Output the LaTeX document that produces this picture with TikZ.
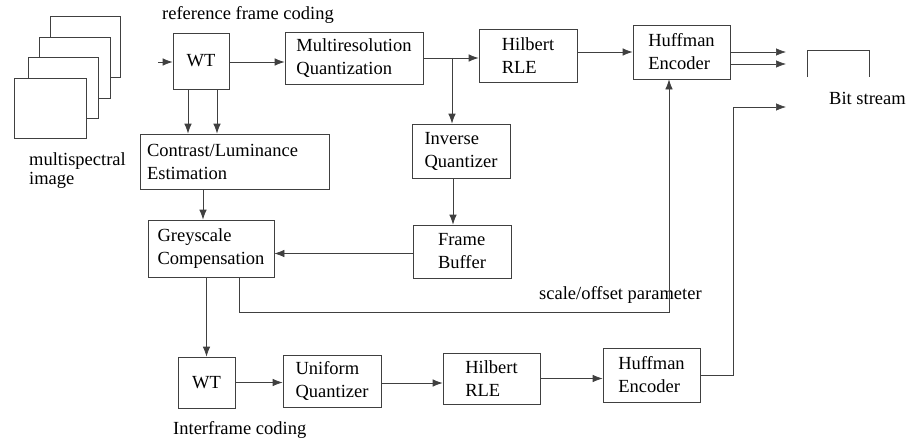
\documentclass[tikz,border=0pt]{standalone}
\usepackage{fontspec}
\setmainfont{Liberation Serif}
\usetikzlibrary{arrows.meta}
\begin{document}
\begin{tikzpicture}[x=1pt,y=-1pt,
  ln/.style={draw=black!75,line width=0.7pt},
  blk/.style={ln,rectangle,inner sep=0pt,align=left,font=\fontsize{18.5}{23}\selectfont},
  lbl/.style={inner sep=0pt,align=left,font=\fontsize{18.5}{19}\selectfont},
  arr/.style={ln,-{Latex[length=10pt,width=7.5pt]}},
  sheet/.style={ln,fill=white}]
\useasboundingbox (0,0) rectangle (910,444);
% multispectral image stack
\draw[sheet] (50,16) rectangle (120,77);
\draw[sheet] (39,37) rectangle (110,98);
\draw[sheet] (28,57) rectangle (98,118);
\draw[sheet] (14,78) rectangle (86,138);
\node[lbl,anchor=west] (ms) at (29,171) {multispectral\\image};
\node[lbl,anchor=west] (rfc) at (162,15) {reference frame coding};
\node[lbl,anchor=west] (ifc) at (173,430) {Interframe coding};
\node[lbl,anchor=west] (sop) at (539,295) {scale/offset parameter};
\node[lbl,anchor=west] (bs) at (829,98) {Bit stream};
% blocks
\node[blk,minimum width=56pt,minimum height=56pt] (WT1) at (201,61) {WT};
\node[blk,minimum width=138pt,minimum height=52pt] (MQ) at (354,58) {Multiresolution\\Quantization};
\node[blk,minimum width=98pt,minimum height=53pt] (HR1) at (528,55.5) {Hilbert\\RLE};
\node[blk,minimum width=97pt,minimum height=54pt] (HE1) at (681.5,52) {Huffman\\Encoder};
\node[blk,minimum width=189pt,minimum height=55pt,text width=175pt,inner xsep=7pt] (CL) at (234.5,161.5) {Contrast/Luminance\\Estimation};
\node[blk,minimum width=126pt,minimum height=57pt] (GC) at (211,248.5) {Greyscale\\Compensation};
\node[blk,minimum width=98pt,minimum height=54pt] (IQ) at (461,151) {Inverse\\Quantizer};
\node[blk,minimum width=98pt,minimum height=53pt] (FB) at (462,251.5) {Frame\\Buffer};
\node[blk,minimum width=57pt,minimum height=51pt] (WT2) at (206.5,382.5) {WT};
\node[blk,minimum width=98pt,minimum height=52pt] (UQ) at (332,381) {Uniform\\Quantizer};
\node[blk,minimum width=97pt,minimum height=51pt] (HR2) at (491.5,378.5) {Hilbert\\RLE};
\node[blk,minimum width=97pt,minimum height=54pt] (HE2) at (651.5,375) {Huffman\\Encoder};
% bit stream box (open at the bottom)
\draw[ln] (807,77) -- (807,50) -- (869,50) -- (869,77);
% coordinates
\coordinate (in) at (158,62);
\coordinate (br) at (452,58);
\coordinate (sc) at (669,312);
\coordinate (o1) at (786,52);
\coordinate (o2) at (786,64);
\coordinate (o3) at (786,107);
% connectors
\draw[arr] (in) -- (in -| WT1.west);
\draw[arr] ([yshift=-1pt]WT1.east) -- ([yshift=-1pt]WT1.east -| MQ.west);
\draw[arr] (MQ.east) -- (MQ.east -| HR1.west);
\draw[arr] (br) -- (br |- IQ.north);
\draw[arr] ([xshift=-8pt]IQ.south) -- ([xshift=-8pt]IQ.south |- FB.north);
\draw[arr] ([yshift=-2pt]FB.west) -- ([yshift=-2pt]FB.west -| GC.east);
\draw[arr] ([xshift=-13pt]WT1.south) -- ([xshift=-13pt]WT1.south |- CL.north);
\draw[arr] ([xshift=16pt]WT1.south) -- ([xshift=16pt]WT1.south |- CL.north);
\draw[arr] ([xshift=-8pt]GC.north |- CL.south) -- ([xshift=-8pt]GC.north);
\draw[arr] (WT2.north |- GC.south) -- (WT2.north);
\draw[arr] ([xshift=28pt]GC.south) |- (sc) -- (sc |- HE1.south);
\draw[arr] (HE1.west -| HR1.east) -- (HE1.west);
\draw[arr] (HE1.east) -- (o1);
\draw[arr] (HE1.east |- o2) -- (o2);
\draw[arr] (WT2.east) -- (WT2.east -| UQ.west);
\draw[arr] ([yshift=-2pt]UQ.east) -- ([yshift=-2pt]UQ.east -| HR2.west);
\draw[arr] (HR2.east) -- (HR2.east -| HE2.west);
\draw[arr] (HE2.east) -- ++(33,0) |- (o3);
\end{tikzpicture}
\end{document}
